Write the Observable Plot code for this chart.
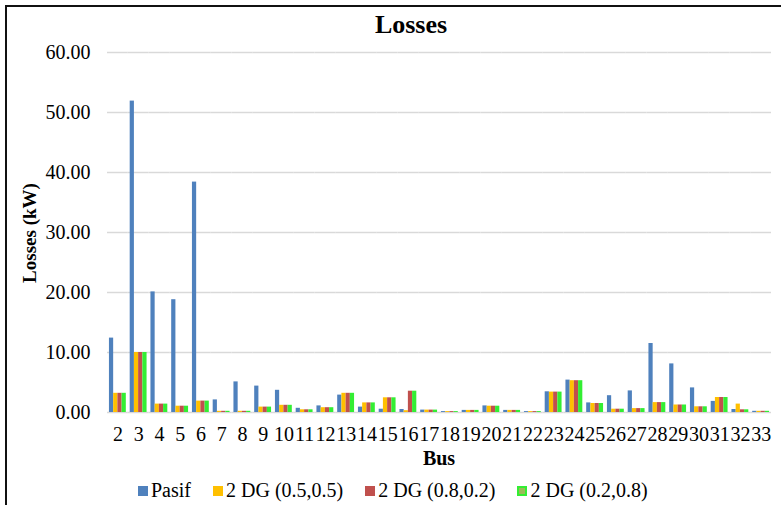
<!DOCTYPE html>
<html><head><meta charset="utf-8">
<script src="https://cdn.jsdelivr.net/npm/d3@7"></script>
<script src="https://cdn.jsdelivr.net/npm/@observablehq/plot@0.6"></script>
<style>
body{margin:0;background:#fff;}
#wrap{position:relative;width:781px;height:505px;overflow:hidden;font-family:'Liberation Serif','Times New Roman','DejaVu Serif',serif;color:#000;}
#frame{position:absolute;left:5px;top:5px;width:800px;height:520px;border-top:2px solid #111;border-left:2px solid #111;box-sizing:border-box;}
#title{position:absolute;left:311px;width:200px;top:10px;text-align:center;font-weight:bold;font-size:26px;}
#ylab{position:absolute;left:30px;top:233px;transform:translate(-50%,-50%) rotate(-90deg);font-weight:bold;font-size:19px;white-space:nowrap;}
#xlab{position:absolute;left:339px;width:200px;top:447px;text-align:center;font-weight:bold;font-size:20px;}
#legend{position:absolute;left:138px;top:479px;display:flex;gap:22px;font-size:20px;white-space:nowrap;}
#legend .it{display:flex;align-items:center;}
#legend .sw{width:10px;height:10px;margin-right:3px;box-sizing:border-box;}
#chart{position:absolute;left:0;top:0;}
#chart svg text{font-family:'Liberation Serif','Times New Roman','DejaVu Serif',serif !important;}
</style></head>
<body>
<div id="wrap">
<div id="frame"></div>
<div id="chart"></div>
<div id="title">Losses</div>
<div id="ylab">Losses (kW)</div>
<div id="xlab">Bus</div>
<div id="legend"></div>
</div>
<script>
const buses = [2,3,4,5,6,7,8,9,10,11,12,13,14,15,16,17,18,19,20,21,22,23,24,25,26,27,28,29,30,31,32,33];
const pasif = [12.4,51.9,20.1,18.8,38.4,2.1,5.1,4.4,3.7,0.7,1.1,2.9,0.9,0.55,0.5,0.4,0.15,0.35,1.1,0.35,0.15,3.45,5.4,1.6,2.8,3.6,11.5,8.1,4.1,1.85,0.5,0.2];
const dg55 = [3.2,10.0,1.4,1.05,1.9,0.2,0.2,0.9,1.2,0.45,0.8,3.2,1.6,2.45,0.3,0.4,0.15,0.35,1.05,0.35,0.15,3.4,5.3,1.5,0.55,0.65,1.65,1.25,0.95,2.5,1.4,0.2];
const dg82 = [3.2,10.0,1.4,1.05,1.9,0.2,0.2,0.9,1.2,0.45,0.8,3.2,1.6,2.45,3.55,0.4,0.15,0.35,1.05,0.35,0.15,3.4,5.3,1.5,0.55,0.65,1.65,1.25,0.95,2.5,0.45,0.2];
const dg28 = [3.2,10.0,1.4,1.05,1.9,0.2,0.2,0.9,1.2,0.45,0.8,3.2,1.6,2.45,3.55,0.4,0.15,0.35,1.05,0.35,0.15,3.4,5.3,1.5,0.55,0.65,1.65,1.25,0.95,2.5,0.45,0.2];
const seriesNames = ["Pasif","2 DG (0.5,0.5)","2 DG (0.8,0.2)","2 DG (0.2,0.8)"];
const seriesColors = ["#4F81BD","#FFC000","#C0504D","#33EE33"];
const yTicks = [0,10,20,30,40,50,60];

const seriesValues = [pasif, dg55, dg82, dg28];
const data = [];
buses.forEach((b,i)=>{
  seriesNames.forEach((s,j)=>data.push({bus:b, series:s, value:seriesValues[j][i]}));
});

const plot = Plot.plot({
  width: 781,
  height: 470,
  marginTop: 52,
  marginBottom: 58,
  marginLeft: 107,
  marginRight: 10,
  style: {fontFamily: "'Liberation Serif', serif", fontSize: "20px", color: "#000", background: "transparent"},
  fx: {domain: buses, padding: 0, round: false, label: null, tickSize: 0, tickPadding: 14},
  x: {domain: seriesNames, paddingInner: 0, paddingOuter: 0.46, round: false, axis: null},
  y: {domain: [0, 60], ticks: yTicks, tickFormat: d3.format(".2f"), tickSize: 0, tickPadding: 17, label: null, grid: false},
  color: {domain: seriesNames, range: seriesColors},
  marks: [
    Plot.ruleY(yTicks, {stroke: "#d9d9d9", strokeWidth: 1.5}),
    Plot.barY(data, {fx: "bus", x: "series", y: "value", fill: "series"})
  ]
});
document.getElementById("chart").appendChild(plot);

const leg = document.getElementById("legend");
seriesNames.forEach((s,j)=>{
  const it = document.createElement("div"); it.className="it";
  const sw = document.createElement("div"); sw.className="sw"; sw.style.background = seriesColors[j];
  if (j===3) { sw.style.background = "#9BBB59"; sw.style.border = "2px solid #33EE33"; }
  const tx = document.createElement("span"); tx.textContent = s;
  it.appendChild(sw); it.appendChild(tx); leg.appendChild(it);
});
</script>
</body></html>
